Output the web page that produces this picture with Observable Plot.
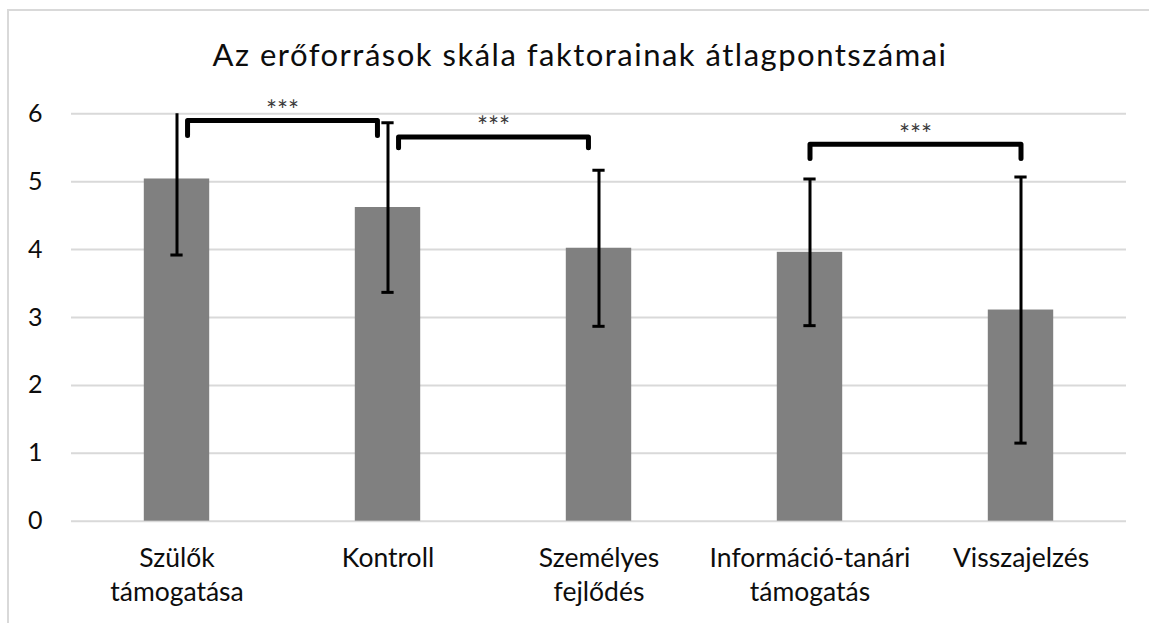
<!DOCTYPE html>
<html><head><meta charset="utf-8">
<script src="https://cdn.jsdelivr.net/npm/d3@7"></script>
<script src="https://cdn.jsdelivr.net/npm/@observablehq/plot@0.6"></script>
<style>
html,body{margin:0;padding:0;background:#fff}
body{width:1149px;height:623px;overflow:hidden;position:relative;font-family:Lato,"Open Sans",sans-serif}
#frame{position:absolute;left:7px;top:9px;width:1200px;height:700px;border:2px solid #d9d9d9;box-sizing:border-box}
#title{position:absolute;left:0;top:36px;width:1160px;text-align:center;font-size:31px;letter-spacing:1.5px;line-height:36px;color:#0d0d0d;white-space:nowrap}
#chart{position:absolute;left:0;top:90px}
</style></head>
<body>
<div id="frame"></div>
<div id="title">Az erőforrások skála faktorainak átlagpontszámai</div>
<div id="chart"></div>
<script>
const categories = ["Szülők\ntámogatása", "Kontroll", "Személyes\nfejlődés", "Információ-tanári\ntámogatás", "Visszajelzés"];
const means = [5.04, 4.62, 4.02, 3.96, 3.11];
const sds = [1.12, 1.25, 1.15, 1.08, 1.96];
const yTicks = [0, 1, 2, 3, 4, 5, 6];
const bracketFrom = [0, 1, 3];
const bracketTo = [1, 2, 4];
const bracketInset = [0.05, 0.05, 0];
const bracketTop = [5.9, 5.66, 5.55];
const bracketEnd = [5.68, 5.5, 5.34];
const bracketLabels = ["***", "***", "***"];

const rows = categories.map((c, i) => ({i, c, mean: means[i], lo: means[i] - sds[i], hi: means[i] + sds[i]}));
const caps = rows.flatMap(d => [{i: d.i, y: d.lo}, {i: d.i, y: d.hi}]);
const brackets = bracketFrom.map((f, k) => ({k, a: f + bracketInset[k], b: bracketTo[k] - bracketInset[k], top: bracketTop[k], end: bracketEnd[k], label: bracketLabels[k]}));
const bracketPts = brackets.flatMap(d => [
  {k: d.k, x: d.a, y: d.end}, {k: d.k, x: d.a, y: d.top},
  {k: d.k, x: d.b, y: d.top}, {k: d.k, x: d.b, y: d.end}
]);
const half = 0.155, capHalf = 0.029;

const chart = Plot.plot({
  width: 1149, height: 533,
  marginLeft: 71, marginRight: 23, marginTop: 23.3, marginBottom: 102.3,
  x: {domain: [-0.5, 4.5]},
  y: {domain: [0, 6]},
  style: {fontFamily: "Lato, 'Open Sans', sans-serif", background: "transparent", color: "#0d0d0d"},
  marks: [
    Plot.ruleY(yTicks, {stroke: "#d9d9d9", strokeWidth: 2}),
    Plot.rectY(rows, {x1: d => d.i - half, x2: d => d.i + half, y1: 0, y2: "mean", fill: "#808080"}),
    Plot.ruleX(rows, {x: "i", y1: "lo", y2: "hi", stroke: "black", strokeWidth: 3, clip: true}),
    Plot.ruleY(caps, {x1: d => d.i - capHalf, x2: d => d.i + capHalf, y: "y", stroke: "black", strokeWidth: 3, clip: true}),
    Plot.line(bracketPts, {x: "x", y: "y", z: "k", stroke: "black", strokeWidth: 5, strokeLinejoin: "round", strokeLinecap: "round"}),
    Plot.text(brackets, {x: d => (d.a + d.b) / 2, y: "top", text: "label", dy: -9, fontSize: 26, fill: "#3a3a3a"}),
    Plot.axisY({ticks: yTicks, tickFormat: d => String(d), tickSize: 0, tickPadding: 29, fontSize: 25, label: null}),
    Plot.axisX({ticks: [0, 1, 2, 3, 4], tickFormat: i => categories[i], tickSize: 0, tickPadding: 22, fontSize: 26.5, lineHeight: 1.28, label: null})
  ]
});
document.getElementById("chart").appendChild(chart);
</script>
</body></html>
